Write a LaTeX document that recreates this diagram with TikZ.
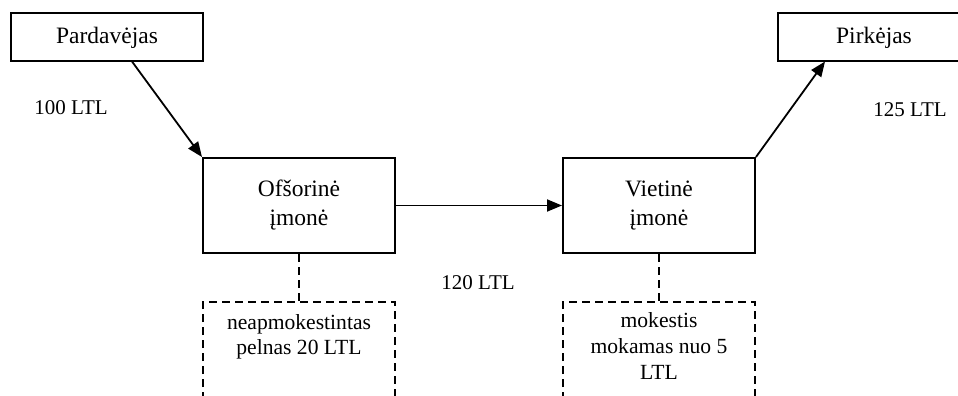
\documentclass[tikz,border=0pt]{standalone}
\usepackage{fontspec}
\setmainfont{Liberation Serif}
\usetikzlibrary{arrows.meta}
\begin{document}
\begin{tikzpicture}[x=1pt,y=-1pt,
  box/.style={draw, line width=2pt, minimum width=192pt, inner sep=0pt, align=center, font=\fontsize{23.5}{29}\selectfont},
  lbl/.style={font=\fontsize{21}{25}\selectfont, inner sep=0pt, align=center},
  arr/.style={line width=1.8pt, -{Triangle[length=15pt,width=12pt]}},
  dashline/.style={line width=2pt, dash pattern=on 8pt off 5pt}]
\useasboundingbox (0,0) rectangle (958,396);
\clip (0,0) rectangle (958,396);
\node[box, minimum height=48pt] (sell) at (107,37.5) {Pardavėjas};
\node[box, minimum height=48pt] (buy) at (874,37.5) {Pirkėjas};
\node[box, minimum height=95pt] (off) at (299,205.5) {Ofšorinė\\įmonė};
\node[box, minimum height=95pt] (loc) at (659,205.5) {Vietinė\\įmonė};
\node[lbl] (l100) at (71,108) {100 LTL};
\node[lbl] (l125) at (910,110) {125 LTL};
\node[lbl] (l120) at (478,283) {120 LTL};
\coordinate (sellout) at (132,61.5);
\coordinate (buyin) at (825,61.5);
\draw[arr] (sellout) -- (off.north west);
\draw[arr] (off.east) -- (loc.west);
\draw[arr] (loc.north east) -- (buyin);
% dashed boxes
\coordinate (d1tl) at (203,302);
\coordinate (d1tr) at (395,302);
\coordinate (d1bl) at (203,400);
\coordinate (d1br) at (395,400);
\coordinate (d1top) at (299,302);
\coordinate (d2tl) at (563,302);
\coordinate (d2tr) at (755,302);
\coordinate (d2bl) at (563,400);
\coordinate (d2br) at (755,400);
\coordinate (d2top) at (659,302);
\draw[dashline] (d1bl) -- (d1tl) -- (d1tr) -- (d1br);
\draw[dashline] (d2bl) -- (d2tl) -- (d2tr) -- (d2br);
\draw[dashline] (off.south) -- (d1top);
\draw[dashline] (loc.south) -- (d2top);
\node[lbl, font=\fontsize{21.6}{25}\selectfont, anchor=north] (t1) at (299,314) {neapmokestintas\\pelnas 20 LTL};
\node[lbl, font=\fontsize{21.6}{26}\selectfont, anchor=north] (t2) at (659,312) {mokestis\\mokamas nuo 5\\LTL};
\end{tikzpicture}
\end{document}
